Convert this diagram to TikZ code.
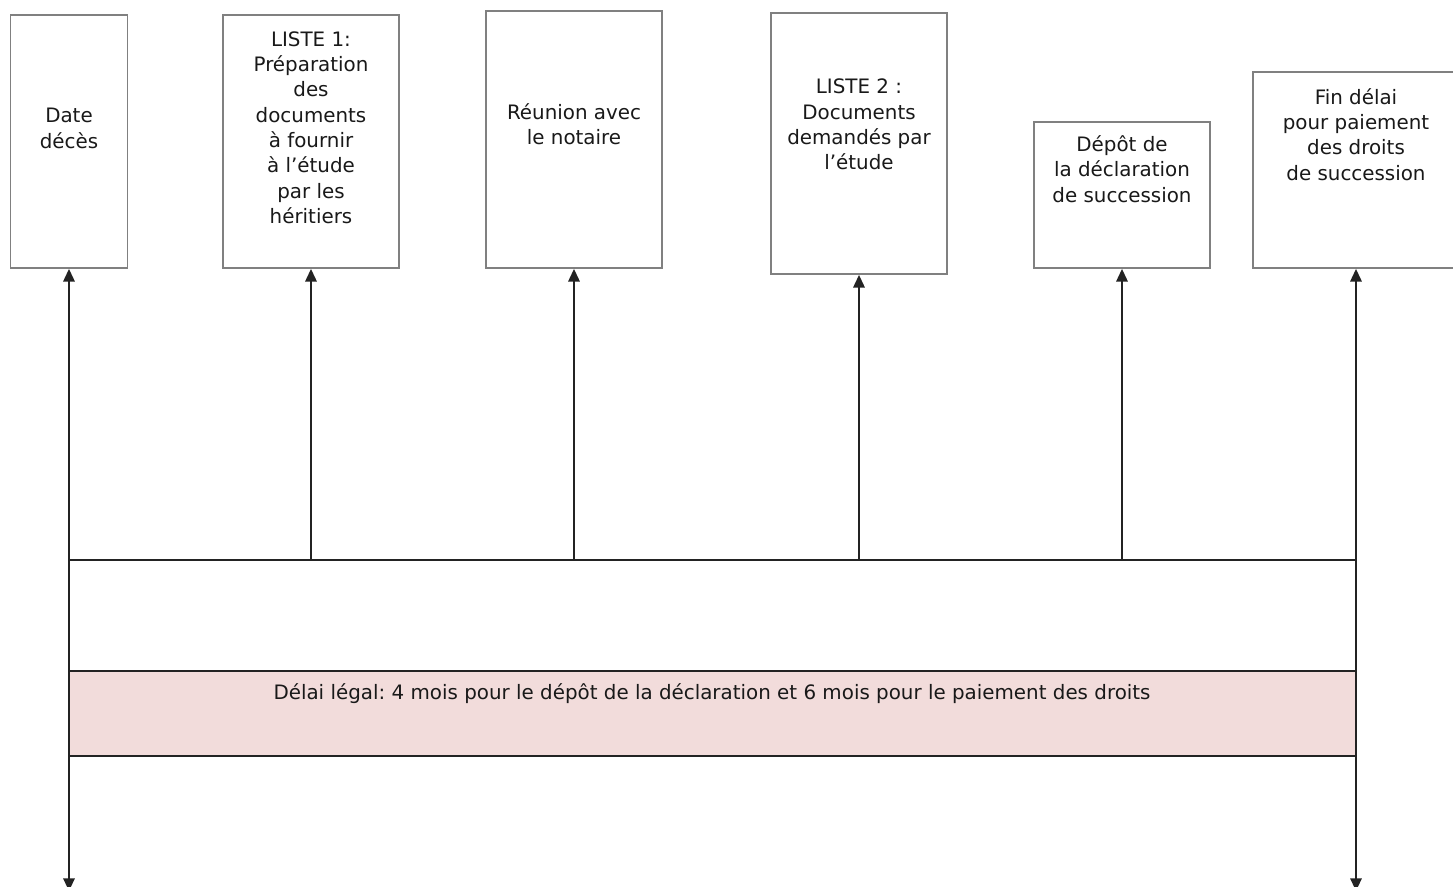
\documentclass[tikz,border=0pt]{standalone}
\usepackage{fontspec}
\setmainfont{DejaVu Sans}
\usetikzlibrary{arrows.meta}
\definecolor{boxgray}{RGB}{128,128,128}
\definecolor{linedark}{RGB}{35,35,35}
\definecolor{bandpink}{RGB}{242,220,219}
\definecolor{txt}{RGB}{25,25,25}
\tikzset{
  evbox/.style={draw=boxgray, line width=1.3pt, fill=white, minimum width=#1*0.75pt, inner sep=0pt},
  lbl/.style={align=center, text=txt, font=\fontsize{14.9}{19}\selectfont\frenchspacing, inner sep=0pt},
  tip/.tip={Triangle[length=9.5pt,width=8.5pt]},
  conn/.style={draw=linedark, line width=1.5pt, -tip},
  rule/.style={draw=linedark, line width=1.5pt},
}
\begin{document}
\begin{tikzpicture}[x=0.75pt,y=-0.75pt]
\useasboundingbox (0,0) rectangle (1453,886);
\clip (0,0) rectangle (1453,886);
\fill[white] (0,0) rectangle (1453,886);
% band
\fill[bandpink] (69,671) rectangle (1356,756);
% boxes
\node[evbox=117, minimum height=253*0.75pt] (b1) at (69,141.5) {};
\node[evbox=176, minimum height=253*0.75pt] (b2) at (311,141.5) {};
\node[evbox=176, minimum height=257*0.75pt] (b3) at (574,139.5) {};
\node[evbox=176, minimum height=261*0.75pt] (b4) at (859,143.5) {};
\node[evbox=176, minimum height=146*0.75pt] (b5) at (1122,195) {};
\node[evbox=206, minimum height=196*0.75pt] (b6) at (1356,170) {};
% labels
\node[lbl] (t1) at (69,128.5) {Date\\décès};
\node[lbl] (t2) at (311,127.5) {LISTE 1:\\Préparation\\des\\documents\\à fournir\\à l’étude\\par les\\héritiers};
\node[lbl] (t3) at (574,124.5) {Réunion avec\\le notaire};
\node[lbl] (t4) at (859,124.5) {LISTE 2 :\\Documents\\demandés par\\l’étude};
\node[lbl] (t5) at (1122,169) {Dépôt de\\la déclaration\\de succession};
\node[lbl] (t6) at (1356,134.5) {Fin délai\\pour paiement\\des droits\\de succession};
% timeline coordinates
\coordinate (l1) at (69,560);
\coordinate (l2) at (311,560);
\coordinate (l3) at (574,560);
\coordinate (l4) at (859,560);
\coordinate (l5) at (1122,560);
\coordinate (l6) at (1356,560);
\coordinate (m1) at (69,671);
\coordinate (m6) at (1356,671);
\coordinate (n1) at (69,756);
\coordinate (n6) at (1356,756);
\coordinate (e1) at (69,891);
\coordinate (e6) at (1356,891);
% horizontal rules
\draw[rule] (l1) -- (l6);
\draw[rule] (m1) -- (m6);
\draw[rule] (n1) -- (n6);
% band text
\node[lbl] (band) at (712,694) {Délai légal: 4 mois pour le dépôt de la déclaration et 6 mois pour le paiement des droits};
% connectors
\draw[conn] (l2) -- (b2.south);
\draw[conn] (l3) -- (b3.south);
\draw[conn] (l4) -- (b4.south);
\draw[conn] (l5) -- (b5.south);
\draw[conn, tip-tip] (e1) -- (b1.south);
\draw[conn, tip-tip] (e6) -- (b6.south);
\end{tikzpicture}
\end{document}
